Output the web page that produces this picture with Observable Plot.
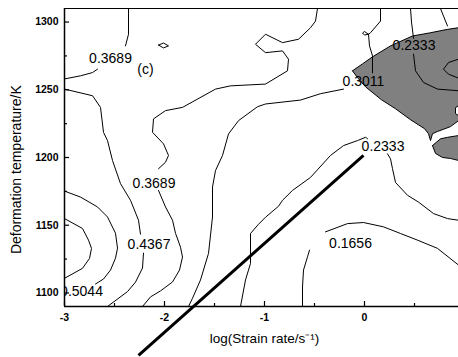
<!DOCTYPE html>
<html><head><meta charset="utf-8">
<script src="https://cdn.jsdelivr.net/npm/d3@7"></script>
<script src="https://cdn.jsdelivr.net/npm/@observablehq/plot@0.6"></script>
<style>body{margin:0;background:#fff;}</style>
</head><body><div id="chart"></div>
<script>
// axis ticks
const xMajor = [-3, -2, -1, 0];
const xMinor = [-2.5, -1.5, -0.5, 0.5];
const yMajor = [1100, 1150, 1200, 1250, 1300];
const yMinor = [1125, 1175, 1225, 1275];

// contour lines: [log strain rate, temperature K]
const c3689TopA = [[-3,1258],[-2.84,1260.3],[-2.72,1262.7],[-2.67,1265.2]];
const c3689TopB = [[-2.39,1282.4],[-2.36,1291],[-2.36,1310]];
const c4367A = [[-3,1250.5],[-2.72,1245.6],[-2.64,1237],[-2.61,1218.6],[-2.57,1212.5],[-2.52,1197.8],[-2.44,1180.7],[-2.34,1168.4],[-2.26,1153.7],[-2.24,1143.4]];
const c4367B = [[-2.21,1129.4],[-2.22,1118.4],[-2.29,1108],[-2.37,1101],[-2.57,1090]];
const c5044 = [[-3,1175.2],[-2.84,1170.8],[-2.67,1163.5],[-2.57,1156.1],[-2.49,1144.1],[-2.47,1133.1],[-2.49,1125.7],[-2.54,1116.9],[-2.61,1110.3],[-2.69,1106.6]];
const cInnerLeft = [[-3,1154.9],[-2.82,1147.6],[-2.76,1139],[-2.73,1132.9],[-2.75,1125.5],[-2.82,1118.2],[-3,1110.8]];
const c3689MidA = [[-0.47,1310],[-0.49,1300.7],[-0.54,1295.8],[-0.66,1287.3],[-0.82,1284.8],[-0.99,1291],[-1.09,1283.6],[-0.99,1277.4],[-0.82,1278.7],[-0.76,1272.6],[-0.77,1264],[-0.99,1254.2],[-1.34,1252.9],[-1.49,1250.5],[-1.82,1237],[-1.99,1234.6],[-2.11,1228.5],[-2.12,1218.6],[-2.01,1210.1],[-1.96,1201.5],[-1.99,1196.5],[-2.06,1191.7]];
const c3689MidB = [[-2.06,1175.7],[-1.99,1163.5],[-1.92,1153.7],[-1.89,1144.1],[-1.84,1133.8],[-1.82,1126.5],[-1.85,1116.9],[-1.92,1108.1],[-2.04,1101.5],[-2.14,1097.1],[-2.22,1090]];
const cLoopSmall = [[-2.06,1283],[-2.01,1284.5],[-1.96,1282.4],[-2.01,1280.9],[-2.06,1283]];
const c3011A = [[0.16,1310],[0.16,1300.7],[0.06,1292.1],[0.04,1291],[0.05,1282.4],[0.08,1275],[0.08,1262.5]];
const c3011Knot = [[0.04,1291],[0.0,1293],[-0.02,1291.9],[0.0,1290.4],[0.04,1291]];
const c3011B = [[-0.21,1250.5],[-0.44,1247.1],[-0.64,1242.4],[-0.99,1239.5],[-1.07,1237.5],[-1.26,1227.2],[-1.36,1217.4],[-1.42,1201.5],[-1.49,1190.4],[-1.52,1178.2],[-1.52,1156.1],[-1.56,1129.2],[-1.64,1109.6],[-1.72,1096.1],[-1.76,1090]];
const c2333UpA = [[0.46,1310],[0.47,1300],[0.49,1288]];
const c2333UpB = [[0.49,1276.3],[0.51,1264],[0.59,1255.4],[0.73,1250.5],[0.94,1249.3]];
const cInnerRight = [[0.94,1272.6],[0.84,1270.1],[0.79,1265.2],[0.84,1261.5],[0.94,1258.6]];
const cTopRight = [[0.76,1310],[0.79,1304.4],[0.83,1297.1]];
const c2333LowA = [[-1.24,1090],[-1.19,1109.6],[-1.14,1121.8],[-1.14,1143.9],[-1.06,1150.7],[-0.99,1155.9],[-0.86,1164],[-0.82,1168.4],[-0.72,1175.7],[-0.54,1185.3],[-0.34,1201.5],[-0.21,1208.8],[-0.07,1212.5],[0.01,1214.9],[0.03,1213.9]];
const c2333LowB = [[0.23,1202.7],[0.26,1199],[0.28,1191.7],[0.31,1181.6],[0.43,1172.1],[0.54,1167.1],[0.69,1158.6],[0.83,1154.9],[0.94,1153.7]];
const c1656A = [[-0.62,1090],[-0.62,1104.4],[-0.61,1116.9],[-0.57,1126.7],[-0.55,1131.6]];
const c1656B = [[-0.39,1145.1],[-0.17,1151.2],[-0.01,1152],[0.19,1148.8],[0.36,1143.9],[0.53,1139],[0.73,1132.9],[0.94,1120.6]];

// instability (shaded) domains
const grayMain = [[-0.12,1264],[-0.02,1269.1],[0.08,1274.3],[0.26,1282.4],[0.48,1289.7],[0.66,1292.1],[0.83,1294.6],[0.94,1295.8],[0.94,1238.2],[0.91,1236.8],[0.91,1232.4],[0.94,1230.9],[0.94,1227.2],[0.86,1222.8],[0.73,1219.2],[0.68,1217.6],[0.66,1212.5],[0.64,1217.6],[0.60,1221.3],[0.46,1227.9],[0.31,1236],[0.17,1242.6],[0.01,1252.2],[-0.07,1259],[-0.12,1264]];
const graySmall = [[0.68,1208.8],[0.76,1213.8],[0.83,1214.9],[0.94,1216.2],[0.94,1197.8],[0.86,1199.3],[0.78,1200],[0.71,1203],[0.68,1208.8]];

// thick straight line
const thickLine = [[-2.26,1054],[-0.01,1201.5]];

// contour labels
const labelText = ["0.3689", "(c)", "0.3689", "0.4367", "0.3011", "0.2333", "0.2333", "0.1656"];
const labelX = [-2.54, -2.19, -2.105, -2.155, -0.01, 0.495, 0.185, -0.14];
const labelY = [1272.8, 1264.7, 1180.9, 1136.0, 1255.9, 1282.4, 1208.1, 1136.8];
const clippedLabel = {text: "0.5044", x: -2.83, y: 1100.7};

const xTitle = "log(Strain rate/s\u207B\u00B9)";
const yTitle = "Deformation temperature/K";

const segments = {c3689TopA, c3689TopB, c4367A, c4367B, c5044, cInnerLeft, c3689MidA, c3689MidB, cLoopSmall,
  c3011A, c3011Knot, c3011B, c2333UpA, c2333UpB, cInnerRight, cTopRight, c2333LowA, c2333LowB, c1656A, c1656B};
const rows = [];
for (const [id, pts] of Object.entries(segments)) for (const [x, y] of pts) rows.push({id, x, y});
const labels = labelText.map((t, i) => ({t, x: labelX[i], y: labelY[i]}));

const font = "'Liberation Sans', Arial, sans-serif";
const chart = Plot.plot({
  width: 458, height: 357,
  marginLeft: 64, marginRight: 0, marginTop: 8, marginBottom: 51,
  x: {domain: [-3, 0.94], axis: null},
  y: {domain: [1090, 1310], axis: null},
  style: {fontFamily: font, background: "white", color: "black"},
  marks: [
    Plot.line(grayMain, {x: d => d[0], y: d => d[1], fill: "#808080", stroke: "black", strokeWidth: 1}),
    Plot.line(graySmall, {x: d => d[0], y: d => d[1], fill: "#808080", stroke: "black", strokeWidth: 1}),
    Plot.line(rows, {x: "x", y: "y", z: "id", stroke: "black", strokeWidth: 1}),
    Plot.line(thickLine, {x: d => d[0], y: d => d[1], stroke: "black", strokeWidth: 3, strokeLinecap: "butt"}),
    Plot.text(labels, {x: "x", y: "y", text: "t", fontSize: 14, fill: "black"}),
    Plot.text([clippedLabel], {x: "x", y: "y", text: "text", fontSize: 14, fill: "black", clip: true}),
    // frame
    Plot.ruleY([1310], {stroke: "black", strokeWidth: 1.2}),
    Plot.ruleY([1090], {stroke: "black", strokeWidth: 1.5}),
    Plot.ruleX([-3], {stroke: "black", strokeWidth: 1.5}),
    // inward ticks
    Plot.tickX(xMajor, {x: d => d, insetTop: 293, stroke: "black", strokeWidth: 1.2}),
    Plot.tickX(xMinor, {x: d => d, insetTop: 295, stroke: "black", strokeWidth: 1.2}),
    Plot.tickY(yMajor, {y: d => d, insetRight: 389, stroke: "black", strokeWidth: 1.2}),
    Plot.tickY(yMinor, {y: d => d, insetRight: 391, stroke: "black", strokeWidth: 1.2}),
    // tick labels
    Plot.text(xMajor, {x: d => d, frameAnchor: "bottom", text: d => String(d), dy: 14, fontSize: 10.5, fontWeight: "bold", fill: "black"}),
    Plot.text(yMajor, {y: d => d, frameAnchor: "left", text: d => String(d), textAnchor: "end", dx: -6, fontSize: 10.5, fontWeight: "bold", fill: "black"}),
    // axis titles
    Plot.text([xTitle], {x: -1, frameAnchor: "bottom", text: d => d, dy: 36, fontSize: 13.5, fill: "black"}),
    Plot.text([yTitle], {y: 1191, frameAnchor: "left", text: d => d, textAnchor: "middle", dx: -48, rotate: -90, fontSize: 14, fill: "black"})
  ]
});
document.getElementById("chart").appendChild(chart);
</script>
</body></html>
